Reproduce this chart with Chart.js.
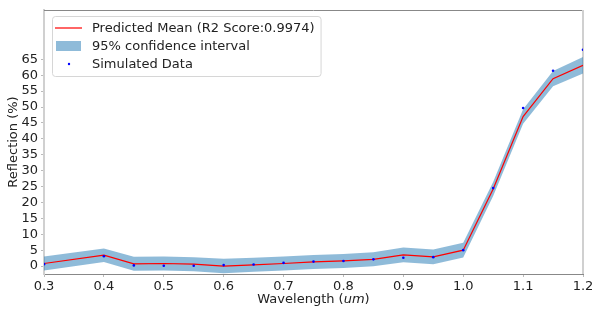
<!DOCTYPE html>
<html>
<head>
<meta charset="utf-8">
<script src="https://cdn.jsdelivr.net/npm/chart.js@4.4.0/dist/chart.umd.min.js"></script>
<style>
  html, body { margin: 0; padding: 0; background: #fff; }
</style>
</head>
<body>
<canvas id="grafico" width="592" height="310"></canvas>
<script>
// Datos
const longitudes = [0.3, 0.4, 0.45, 0.5, 0.55, 0.6, 0.65, 0.7, 0.75, 0.8, 0.85, 0.9, 0.95, 1.0, 1.05, 1.1, 1.15, 1.2];
const media      = [0.8, 3.4, 0.7, 0.8, 0.6, 0.0, 0.4, 0.8, 1.3, 1.6, 2.1, 3.5, 2.9, 5.0, 24.2, 47.0, 58.9, 63.1];
const mitadIC    = [2.2, 2.1, 2.2, 2.2, 2.2, 2.3, 2.2, 2.2, 2.2, 2.2, 2.2, 2.3, 2.3, 2.3, 2.2, 2.3, 2.4, 2.6];
const simulados  = [0.6, 3.1, 0.2, 0.1, 0.1, 0.3, 0.5, 1.0, 1.4, 1.6, 2.1, 2.6, 2.8, 5.0, 24.5, 49.7, 61.4, 68.0];
const ticksX = [0.3, 0.4, 0.5, 0.6, 0.7, 0.8, 0.9, 1.0, 1.1, 1.2];
const ticksY = [0, 5, 10, 15, 20, 25, 30, 35, 40, 45, 50, 55, 60, 65];
const etiquetas = ['Predicted Mean (R2 Score:0.9974)', '95% confidence interval', 'Simulated Data'];

const FUENTE = 'DejaVu Sans';
const colorBanda = 'rgba(31,119,180,0.5)';

const puntos = (vals) => longitudes.map((x, i) => ({ x: x, y: vals[i] }));
const superior = media.map((m, i) => m + mitadIC[i]);
const inferior = media.map((m, i) => m - mitadIC[i]);

// Leyenda dentro del área del gráfico
const leyenda = {
  id: 'leyenda',
  afterDraw(chart) {
    const ctx = chart.ctx;
    const a = chart.chartArea;
    const x0 = a.left + 8, y0 = a.top + 6;
    ctx.save();
    ctx.font = '13px "' + FUENTE + '"';
    const anchoTxt = Math.max(...etiquetas.map(t => ctx.measureText(t).width));
    const w = anchoTxt + 46, h = 60;
    ctx.beginPath();
    ctx.roundRect(x0 + 0.5, y0 + 0.5, w, h, 3);
    ctx.fillStyle = 'rgba(255,255,255,0.8)';
    ctx.fill();
    ctx.strokeStyle = '#d6d6d6';
    ctx.lineWidth = 1;
    ctx.stroke();
    const filas = [y0 + 12, y0 + 30, y0 + 48];
    // línea roja
    ctx.strokeStyle = '#ff0000';
    ctx.lineWidth = 1.2;
    ctx.beginPath();
    ctx.moveTo(x0 + 3, filas[0]);
    ctx.lineTo(x0 + 30, filas[0]);
    ctx.stroke();
    // banda
    ctx.fillStyle = colorBanda;
    ctx.fillRect(x0 + 4, filas[1] - 5, 25, 10);
    // punto
    ctx.fillStyle = '#0000ff';
    ctx.beginPath();
    ctx.arc(x0 + 17, filas[2], 1.2, 0, Math.PI * 2);
    ctx.fill();
    ctx.fillStyle = '#222';
    ctx.textBaseline = 'middle';
    etiquetas.forEach((t, i) => ctx.fillText(t, x0 + 40, filas[i] + 1));
    ctx.restore();
  }
};

// Marco superior/derecho (debajo de los datos)
const marco = {
  id: 'marco',
  beforeDatasetsDraw(chart) {
    const ctx = chart.ctx;
    const a = chart.chartArea;
    ctx.save();
    ctx.strokeStyle = '#888';
    ctx.lineWidth = 1;
    ctx.beginPath();
    ctx.moveTo(a.left, a.top + 0.5);
    ctx.lineTo(a.right, a.top + 0.5);
    ctx.stroke();
    ctx.strokeStyle = '#d0d0d0';
    ctx.lineWidth = 2;
    ctx.beginPath();
    ctx.moveTo(a.right, a.top);
    ctx.lineTo(a.right, a.bottom);
    ctx.stroke();
    ctx.restore();
  }
};

// Títulos de los ejes
const titulos = {
  id: 'titulos',
  afterDraw(chart) {
    const ctx = chart.ctx;
    const a = chart.chartArea;
    ctx.save();
    ctx.fillStyle = '#222';
    ctx.textBaseline = 'middle';
    const normal = '13px "' + FUENTE + '"';
    const italica = 'oblique 13px "' + FUENTE + '"';
    const partes = [['Wavelength (', normal], ['um', italica], [')', normal]];
    let total = 0;
    partes.forEach(p => { ctx.font = p[1]; total += ctx.measureText(p[0]).width; });
    let x = (a.left + a.right) / 2 - total / 2;
    ctx.textAlign = 'left';
    partes.forEach(p => {
      ctx.font = p[1];
      ctx.fillText(p[0], x, 300);
      x += ctx.measureText(p[0]).width;
    });

    ctx.font = normal;
    ctx.translate(14, (a.top + a.bottom) / 2);
    ctx.rotate(-Math.PI / 2);
    ctx.textAlign = 'center';
    ctx.fillText('Reflection (%)', 0, 0);
    ctx.restore();
  }
};

new Chart(document.getElementById('grafico').getContext('2d'), {
  type: 'line',
  data: {
    datasets: [
      {
        label: 'superior',
        data: puntos(superior),
        borderWidth: 0,
        pointRadius: 0,
        backgroundColor: colorBanda,
        fill: '+1',
        order: 3
      },
      {
        label: 'inferior',
        data: puntos(inferior),
        borderWidth: 0,
        pointRadius: 0,
        fill: false,
        order: 3
      },
      {
        label: etiquetas[0],
        data: puntos(media),
        borderColor: '#ff0000',
        borderWidth: 1.2,
        pointRadius: 0,
        fill: false,
        tension: 0,
        order: 2
      },
      {
        label: etiquetas[2],
        type: 'scatter',
        data: puntos(simulados),
        pointRadius: 1.3,
        pointBackgroundColor: '#0000ff',
        pointBorderWidth: 0,
        order: 1
      }
    ]
  },
  options: {
    responsive: false,
    animation: false,
    layout: { padding: { top: 10, right: 9, left: 0, bottom: 0 } },
    plugins: { legend: { display: false }, tooltip: { enabled: false } },
    scales: {
      x: {
        type: 'linear',
        min: 0.3,
        max: 1.2,
        afterBuildTicks: (s) => { s.ticks = ticksX.map(v => ({ value: v })); },
        afterFit: (s) => { s.height = 36; s.paddingLeft = 0; s.paddingRight = 0; },
        ticks: {
          color: '#222',
          font: { family: FUENTE, size: 13 },
          padding: 2,
          maxRotation: 0,
          callback: (v) => Number(v).toFixed(1)
        },
        grid: { drawOnChartArea: false, tickLength: 3, tickColor: '#bbb' },
        border: { color: '#888', width: 1 }
      },
      y: {
        min: -2.5,
        max: 80.5,
        afterBuildTicks: (s) => { s.ticks = ticksY.map(v => ({ value: v })); },
        afterFit: (s) => { s.width = 44; s.paddingTop = 0; s.paddingBottom = 0; },
        ticks: {
          color: '#222',
          font: { family: FUENTE, size: 13 },
          padding: 3
        },
        grid: { drawOnChartArea: false, tickLength: 3, tickColor: '#bbb' },
        border: { color: '#d0d0d0', width: 2 }
      }
    }
  },
  plugins: [marco, leyenda, titulos]
});
</script>
</body>
</html>
